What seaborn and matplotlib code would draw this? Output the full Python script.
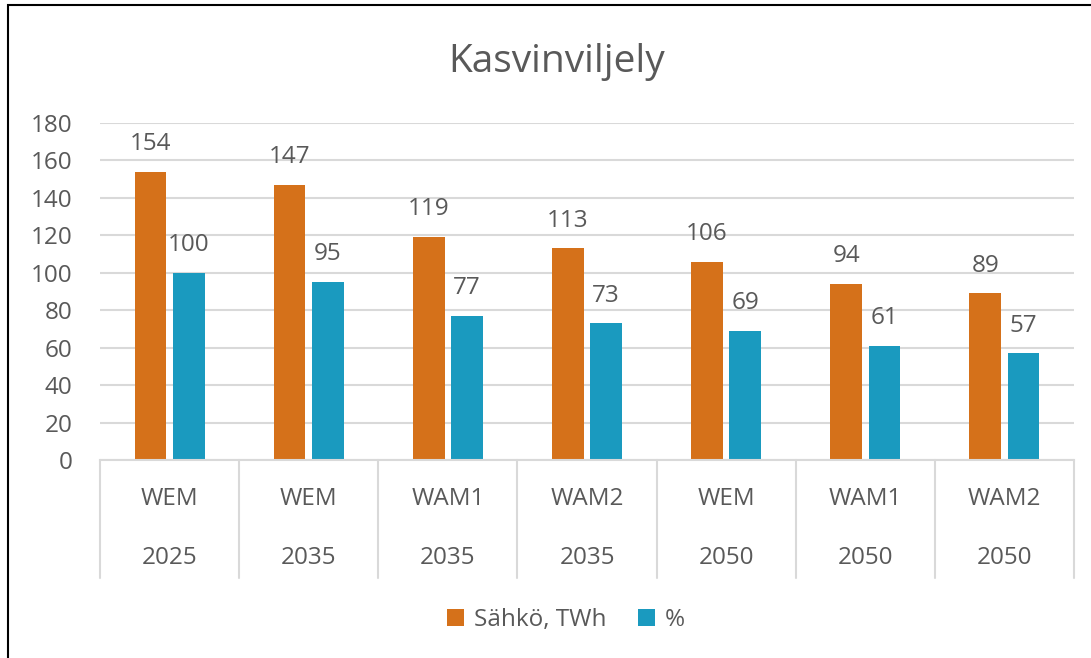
import pandas as pd
import matplotlib.pyplot as plt
import seaborn as sns
from matplotlib.patches import Rectangle

# chart values
scenarios = ["WEM", "WEM", "WAM1", "WAM2", "WEM", "WAM1", "WAM2"]
years = ["2025", "2035", "2035", "2035", "2050", "2050", "2050"]
sahko_twh = [154, 147, 119, 113, 106, 94, 89]
prosentti = [100, 95, 77, 73, 69, 61, 57]
series_names = ["Sähkö, TWh", "%"]

keys = [f"{s} {y}" for s, y in zip(scenarios, years)]
data = pd.DataFrame({
    "kategoria": keys * 2,
    "sarja": [series_names[0]] * len(keys) + [series_names[1]] * len(keys),
    "arvo": sahko_twh + prosentti,
})

sns.set_style("white")
plt.rcParams['font.family'] = ['Open Sans', 'DejaVu Sans']
text_col = "#595959"
grid_col = "#D9D9D9"
fs = 17.5

fig = plt.figure(figsize=(10.91, 6.58), dpi=100)
ax = fig.add_axes([0.0917, 0.3009, 0.8927, 0.5122])

sns.barplot(data=data, x="kategoria", y="arvo", hue="sarja", order=keys,
            palette=["#D5711A", "#1A9ABF"], width=0.55, gap=0.17,
            saturation=1, linewidth=0, ax=ax, legend=True)

ax.set_ylim(0, 180)
ax.set_xlim(-0.5, len(keys) - 0.5)
ax.set_yticks(range(0, 181, 20))
ax.yaxis.grid(True, color=grid_col, linewidth=1.5)
ax.set_axisbelow(True)
for side in ["top", "right", "left"]:
    ax.spines[side].set_visible(False)
ax.spines["bottom"].set_color(grid_col)
ax.spines["bottom"].set_linewidth(1.5)
ax.tick_params(axis="y", length=0, labelsize=fs, labelcolor=text_col, pad=20)
ax.tick_params(axis="x", length=0, labelbottom=False)
ax.set_xlabel("")
ax.set_ylabel("")

# data labels
for cont in ax.containers:
    for bar in cont:
        h = bar.get_height()
        ax.annotate(f"{h:.0f}", (bar.get_x() + bar.get_width() / 2, h),
                    xytext=(0, 20), textcoords="offset points",
                    ha="center", va="center", fontsize=fs, color=text_col)

# two-level category labels with separators
trans = ax.get_xaxis_transform()
for i, (s, y) in enumerate(zip(scenarios, years)):
    ax.text(i, -0.117, s, transform=trans, ha="center", va="center",
            fontsize=fs, color=text_col)
    ax.text(i, -0.29, y, transform=trans, ha="center", va="center",
            fontsize=fs, color=text_col)
for b in range(len(keys) + 1):
    ax.plot([b - 0.5, b - 0.5], [0, -0.35], transform=trans, color=grid_col,
            linewidth=1.5, clip_on=False)

# legend below
handles, labels = ax.get_legend_handles_labels()
ax.get_legend().remove()
fig.legend(handles, labels, loc="center", bbox_to_anchor=(0.519, 1 - 620 / 658),
           ncol=2, frameon=False, fontsize=fs, labelcolor=text_col,
           handlelength=0.7, handleheight=0.7, handletextpad=0.4,
           columnspacing=1.3)

fig.suptitle("Kasvinviljely", x=557 / 1091, y=1 - 62 / 658, va="center",
             fontsize=28, color=text_col)

# chart frame (left and top edges visible)
fig.patches.append(Rectangle((8 / 1091, -0.1), 1.2, 1 - 5 / 658 + 0.1,
                             transform=fig.transFigure, fill=False,
                             edgecolor="black", linewidth=1.5))

fig.savefig("out.png", dpi=100)
